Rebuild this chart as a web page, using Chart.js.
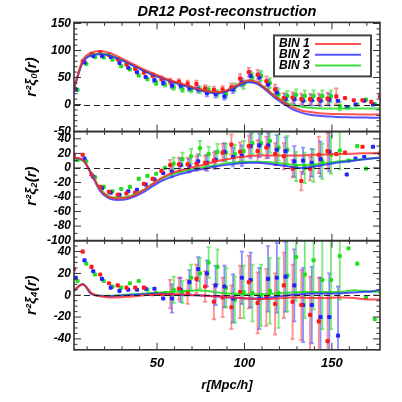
<!DOCTYPE html>
<html>
<head>
<meta charset="utf-8">
<script src="https://cdn.jsdelivr.net/npm/chart.js@4.4.1/dist/chart.umd.min.js"></script>
<style>
  html, body { margin: 0; padding: 0; background: #fff; }
</style>
</head>
<body>
<canvas id="c" width="402" height="402"></canvas>
<script>
// separation r in Mpc/h
const r = [2.5,7.5,12.5,17.5,22.5,27.5,32.5,37.5,42.5,47.5,52.5,57.5,62.5,67.5,72.5,77.5,82.5,87.5,
           92.5,97.5,102.5,107.5,112.5,117.5,122.5,127.5,132.5,137.5,142.5,147.5,152.5,157.5,162.5,167.5,172.5,177.5];
const binNames = ['BIN 1', 'BIN 2', 'BIN 3'];
const binShift = [0, 1, 2];  // small x offset of each bin's points
const xTicks = [50, 100, 150];

// monopole r^2 xi_0
const mono1 = [30,80,94,97,92,84,74,66,59,54,48,43,42,39,38,30,27,28,32,48,60,55,43,28,12,13,10,10,10,11,15,12,8,8,5,15];
const mono2 = [28,78,90,90,88,77,68,60,51,45,40,35,35,30,28,21,19,15,28,41,53,50,37,22,10,10,7,8,7,9,7,-5,0,7,0,null];
const mono3 = [27,75,88,87,83,71,65,54,47,40,37,32,28,27,27,27,21,19,32,37,50,53,40,19,16,18,16,16,16,15,-3,-5,0,9,1,null];
const monoErr1 = [null,null,null,null,null,null,null,null,null,4,4,5,5,5,6,6,6,6,7,8,8,9,9,9,9,10,10,10,10,11,15,null,null,null,null,null];
const monoErr2 = [null,null,null,null,null,null,null,null,null,4,4,5,5,5,6,6,6,6,7,8,8,9,9,9,9,10,10,10,10,11,null,null,null,null,null,null];
const monoErr3 = [null,null,null,null,null,null,null,null,null,4,4,5,5,5,6,6,6,6,7,8,8,9,9,9,9,10,10,10,10,11,8,null,null,null,null,null];
const monoModel1 = [30,82,96,99,96,89,81,73,65,58,51,45,40,35,30,26,23,24,31,39,45,41,28,15,4,-5,-11,-14,-16,-17,-17.5,-18,-18,-18.5,-18.5,-18.5];
const monoModel2 = [30,78,91,93,91,85,78,70,62,55,49,43,38,33,28,24,21,22,28,36,41,38,26,12,1,-9,-15,-19,-21,-22,-23,-23.5,-24,-24,-24.5,-24.5];
const monoModel3 = [30,80,92,94,92,86,78,71,63,56,50,44,39,34,29,25,22,23,29,37,43,40,29,16,6,-1,-4,-6,-7,-7.5,-7.5,-7.5,-7.5,-7.5,-7.5,-7.5];

// quadrupole r^2 xi_2
const quad1 = [18,18,-9,-26,-33,-37,-35,-34,-22,-15,-4,4,5,5,6,7,10,21,32,22,30,23,28,19,16,-1,-18,-1,18,23,19,21,null,29,null,20];
const quad2 = [12,13,-12,-28,-34,-37,-32,-30,-23,-16,-7,-5,4,3,9,7,11,22,15,17,30,31,31,25,23,9,10,7,12,22,null,-9,13,15,29,null];
const quad3 = [11,9,-13,-26,-32,-29,-26,-15,-11,-8,0,6,12,16,27,19,22,21,19,23,34,34,37,28,25,2,0,3,9,18,24,10,30,-1,null,null];
const quadErr1 = [null,null,null,null,null,null,null,null,null,null,null,7,9,9,10,10,11,12,14,13,14,15,15,15,18,12,13,16,25,25,null,null,null,null,null,null];
const quadErr2 = [null,null,null,null,null,null,null,null,null,null,null,8,9,9,10,11,12,12,13,14,17,16,17,20,19,21,18,19,24,27,null,null,null,null,null,null];
const quadErr3 = [null,null,null,null,null,null,null,null,null,null,null,8,9,10,10,10,11,12,13,14,15,15,16,18,19,20,21,22,24,26,26,null,null,null,null,null];
const quadModel1 = [14,11,-8,-30,-40,-42,-41,-37,-30,-22,-14,-8,-4,-1,2,5,8,11,13,15,16,17,17,17,17,17,17,18,18,18.5,19,19,19.5,20,20,20.5];
const quadModel2 = [14,11,-9,-32,-42,-44,-43,-39,-33,-25,-18,-13,-9,-6,-3,-1,1.5,3.5,5,6.5,7,7,6,4.5,3,1,0,1,3,5,7,8.5,10,11.5,13,14];
const quadModel3 = [12,10,-7,-29,-39,-41,-40,-36,-30,-22,-15,-10,-6,-3,-1,1.5,3.5,5.5,7,8,8.5,8.5,8,7,5.5,4.5,4,4.5,5.5,7,8.5,10,11,12,13,14];

// hexadecapole r^2 xi_4
const hexa1 = [24,40,26,19,11,9,7,7,7,1,1,1,6,3,15,8,-6,-2,-11,3,12,-7,-2,-8,9,-6,-9,-18,-24,-42,null,null,null,null,null,null];
const hexa2 = [16,32,22,15,7,4,5,5,6,6,-3,-3,5,12,24,20,9,8,-3,16,14,-3,15,16,17,9,-9,-9,-20,-20,-37,null,null,null,null,null];
const hexa3 = [13,29,19,13,8,7,11,13,5,2,2,5,3,16,20,30,26,7,-4,3,2,0,4,2,18,35,19,32,14,14,36,43,29,-2,-22,null];
const hexaErr1 = [null,null,null,null,null,null,null,null,null,null,null,13,10,11,13,14,16,18,20,24,24,28,26,28,30,34,32,35,40,45,null,null,null,null,null,null];
const hexaErr2 = [null,null,null,null,null,null,null,null,null,null,null,13,11,11,11,12,18,19,22,24,25,28,30,32,32,33,34,35,36,40,45,null,null,null,null,null];
const hexaErr3 = [null,null,null,null,null,null,null,null,null,null,null,12,10,12,14,14,16,18,21,24,26,28,30,32,33,40,40,45,45,45,40,null,null,null,null,null];
const hexaModel1 = [4,10,2,-1,-2,-2,-1.5,-1,0,0.5,1,1,1,0.5,0,-0.5,-1,-1.5,-2,-2.5,-3,-3.5,-3.5,-3,-2.5,-2,-2,-2.5,-2.5,-2.5,-2,-2,-2.5,-3.5,-4,-4];
const hexaModel2 = [4,10,1,-0.5,-1,-0.5,0,0.5,1,1.5,1.5,1,0.5,0,0,-0.5,-1,-1.5,-2,-2.5,-3,-3,-2.5,-1.5,-0.5,0.5,1,1.5,1.5,1.5,1.5,2,2.5,3,3.5,5];
const hexaModel3 = [5,10,1.5,-0.5,-0.5,0,0.5,1,1.5,2,2.5,3,3.5,4,4.5,4,3,2,1.5,1,1,1,1,1.5,2,2.5,3,3,3,3,3,3.5,4.5,4,3.5,3];

const binColors = ['#ff1a1a', '#2323ff', '#22dd22'];
const lineColors = ['rgba(255,40,40,0.8)', 'rgba(40,40,255,0.8)', 'rgba(30,220,30,0.85)'];
const barColors = ['rgba(255,50,50,0.55)', 'rgba(50,50,255,0.55)', 'rgba(30,220,30,0.6)'];

const panels = [
  { id: 'y0', title: 'r²ξ₀(r)', min: -50, max: 152, major: 50, minor: 10, labels: [-50, 0, 50, 100, 150],
    pts: [mono1, mono2, mono3], err: [monoErr1, monoErr2, monoErr3], model: [monoModel1, monoModel2, monoModel3] },
  { id: 'y1', title: 'r²ξ₂(r)', min: -100, max: 50, major: 20, minor: 10, labels: [-100, -80, -60, -40, -20, 0, 20, 40],
    pts: [quad1, quad2, quad3], err: [quadErr1, quadErr2, quadErr3], model: [quadModel1, quadModel2, quadModel3] },
  { id: 'y2', title: 'r²ξ₄(r)', min: -50, max: 50, major: 20, minor: 5, labels: [-40, -20, 0, 20, 40],
    pts: [hexa1, hexa2, hexa3], err: [hexaErr1, hexaErr2, hexaErr3], model: [hexaModel1, hexaModel2, hexaModel3] },
];

const FAMILY = "'Liberation Sans', Arial, sans-serif";
const bi = (size) => ({ family: FAMILY, size, style: 'italic', weight: 'bold' });

// build datasets
const datasets = [];
panels.forEach((p) => {
  p.model.forEach((m, b) => {
    datasets.push({
      type: 'line', yAxisID: p.id, label: binNames[b],
      data: r.map((x, i) => ({ x, y: m[i] })),
      borderColor: lineColors[b], borderWidth: 2, pointRadius: 0,
      cubicInterpolationMode: 'monotone', fill: false,
    });
  });
  p.pts.forEach((vals, b) => {
    datasets.push({
      type: 'scatter', yAxisID: p.id, label: binNames[b],
      data: r.map((x, i) => vals[i] == null ? null : { x: x + binShift[b], y: vals[i] }).filter(Boolean),
      backgroundColor: binColors[b], borderWidth: 0, pointRadius: 2.4, pointStyle: 'rectRounded',
    });
  });
});

const scales = {
  x: {
    type: 'linear', min: 2.5, max: 177.5,
    grid: { display: false, drawTicks: false }, border: { display: false },
    afterBuildTicks: (s) => { s.ticks = xTicks.map(v => ({ value: v })); },
    ticks: { padding: 6, color: '#000', font: bi(13), maxRotation: 0, autoSkip: false },
    title: { display: true, text: 'r[Mpc/h]', color: '#000', font: bi(13), padding: { top: 0, bottom: 9 } },
  },
};
panels.forEach((p, k) => {
  scales[p.id] = {
    type: 'linear', position: 'left', stack: 'panels', stackWeight: 1, weight: 2 - k,
    min: p.min, max: p.max,
    grid: { display: false, drawTicks: false }, border: { display: false },
    afterBuildTicks: (s) => { s.ticks = p.labels.map(v => ({ value: v })); },
    afterFit: (s) => { s.width = 74; },
    ticks: { padding: 3, color: '#000', font: bi(12), autoSkip: false },
    title: { display: true, text: p.title, color: '#000', font: bi(15), padding: { top: 23, bottom: 0 } },
  };
});

// error bars, drawn under the points
const errorBars = {
  id: 'errorBars',
  beforeDatasetsDraw(chart) {
    const ctx = chart.ctx, xs = chart.scales.x, a = chart.chartArea;
    ctx.save();
    panels.forEach((p) => {
      const ys = chart.scales[p.id];
      ctx.save();
      ctx.beginPath();
      ctx.rect(a.left, ys.top, a.right - a.left, ys.bottom - ys.top);
      ctx.clip();
      p.err.forEach((errs, b) => {
        ctx.strokeStyle = barColors[b];
        ctx.lineWidth = 1.8;
        errs.forEach((e, i) => {
          const v = p.pts[b][i];
          if (e == null || v == null) return;
          const px = xs.getPixelForValue(r[i] + binShift[b]);
          const top = ys.getPixelForValue(v + e), bot = ys.getPixelForValue(v - e);
          ctx.beginPath();
          ctx.moveTo(px, top); ctx.lineTo(px, bot);
          ctx.moveTo(px - 2, top); ctx.lineTo(px + 2, top);
          ctx.moveTo(px - 2, bot); ctx.lineTo(px + 2, bot);
          ctx.stroke();
        });
      });
      ctx.restore();
    });
    ctx.restore();
  },
};

// panel frames, inward ticks, zero lines and legend
const frames = {
  id: 'frames',
  afterDatasetsDraw(chart) {
    const ctx = chart.ctx, xs = chart.scales.x, a = chart.chartArea;
    ctx.save();
    panels.forEach((p) => {
      const ys = chart.scales[p.id];
      const z = Math.round(ys.getPixelForValue(0)) + 0.5;
      ctx.setLineDash([6, 4]);
      ctx.strokeStyle = '#222';
      ctx.lineWidth = 1;
      ctx.beginPath(); ctx.moveTo(a.left, z); ctx.lineTo(a.right, z); ctx.stroke();
      ctx.setLineDash([]);
      ctx.strokeStyle = '#333';
      ctx.beginPath();
      for (let v = Math.ceil(p.min / p.minor) * p.minor; v <= p.max; v += p.minor) {
        const len = v % p.major === 0 ? 7 : 3.5;
        const py = ys.getPixelForValue(v);
        ctx.moveTo(a.left, py); ctx.lineTo(a.left + len, py);
        ctx.moveTo(a.right, py); ctx.lineTo(a.right - len, py);
      }
      for (let v = 10; v <= xs.max; v += 10) {
        const len = v % 50 === 0 ? 7 : 3.5;
        const px = xs.getPixelForValue(v);
        ctx.moveTo(px, ys.top); ctx.lineTo(px, ys.top + len);
        ctx.moveTo(px, ys.bottom); ctx.lineTo(px, ys.bottom - len);
      }
      ctx.stroke();
      ctx.lineWidth = 1.6;
      ctx.strokeRect(a.left, ys.top, a.right - a.left, ys.bottom - ys.top);
    });

    // legend box in the top panel
    const ys = chart.scales.y0;
    const bx = a.right - 106, by = ys.top + 13, bw = 97, bh = 41;
    ctx.fillStyle = '#fff';
    ctx.fillRect(bx, by, bw, bh);
    ctx.lineWidth = 2;
    ctx.strokeStyle = '#444';
    ctx.strokeRect(bx, by, bw, bh);
    ctx.font = 'italic bold 12px ' + FAMILY;
    ctx.textBaseline = 'middle';
    binNames.forEach((name, b) => {
      const ly = by + 8.5 + b * 10.8;
      ctx.fillStyle = '#000';
      ctx.fillText(name, bx + 5, ly);
      ctx.strokeStyle = lineColors[b];
      ctx.lineWidth = 2;
      ctx.beginPath(); ctx.moveTo(bx + 41, ly); ctx.lineTo(bx + 87, ly); ctx.stroke();
    });
    ctx.restore();
  },
};

new Chart(document.getElementById('c'), {
  data: { datasets },
  options: {
    responsive: false,
    animation: false,
    devicePixelRatio: 1,
    layout: { padding: { left: 0, right: 22, top: 0, bottom: 0 } },
    plugins: {
      legend: { display: false },
      tooltip: { enabled: false },
      title: {
        display: true, fullSize: false, text: 'DR12 Post-reconstruction', color: '#000',
        font: bi(14.5), padding: { top: 3, bottom: 2 },
      },
    },
    scales,
  },
  plugins: [errorBars, frames],
});
</script>
</body>
</html>
